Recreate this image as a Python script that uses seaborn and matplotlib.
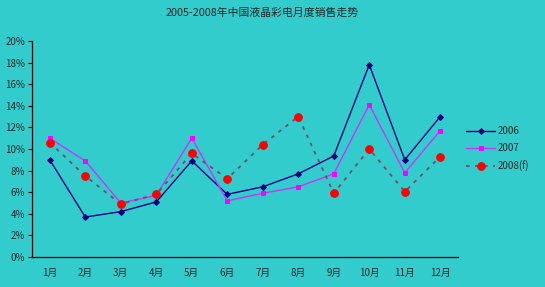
import numpy as np
import pandas as pd
import matplotlib
matplotlib.use("Agg")
import matplotlib.pyplot as plt
import seaborn as sns

months = ["1月", "2月", "3月", "4月", "5月", "6月", "7月", "8月", "9月", "10月", "11月", "12月"]
s2006 = [9.0, 3.7, 4.2, 5.1, 8.9, 5.8, 6.5, 7.7, 9.35, 17.8, 9.0, 13.0]
s2007 = [11.0, 8.9, 5.0, 5.7, 11.0, 5.2, 5.9, 6.5, 7.7, 14.1, 7.8, 11.7]
s2008 = [10.6, 7.5, 4.9, 5.8, 9.6, 7.25, 10.4, 13.0, 5.9, 10.0, 6.05, 9.3]
series_names = ["2006", "2007", "2008(f)"]
title = "2005-2008年中国液晶彩电月度销售走势"
yticks = list(range(0, 21, 2))

sns.set_theme(style="white")
plt.rcParams['font.family'] = ['Noto Sans CJK SC', 'DejaVu Sans']
bg = "#33CCCC"

fig = plt.figure(figsize=(5.45, 2.87), dpi=100, facecolor=bg)
ax = fig.add_axes([32/545, 1-257/287, (458-32)/545, (257-41)/287])
ax.set_facecolor(bg)

x = np.arange(len(months))
df = pd.DataFrame({"x": np.tile(x, 3),
                   "v": s2006 + s2007 + s2008,
                   "s": np.repeat(series_names, len(months))})

styles = {
    "2006": dict(color="#000080", marker="D", markersize=3, linestyle="-", linewidth=1.0,
                 markerfacecolor="#000080", markeredgecolor="#000080"),
    "2007": dict(color="#CC33FF", marker="s", markersize=3.5, linestyle="-", linewidth=1.0,
                 markerfacecolor="#FF00FF", markeredgecolor="#FF00FF"),
    "2008(f)": dict(color="#7a4a6a", marker="o", markersize=5.5, linestyle=(0, (2, 3)), linewidth=1.3,
                    markerfacecolor="#FF0000", markeredgecolor="#FF0000"),
}
for name in series_names:
    sub = df[df["s"] == name]
    st = styles[name]
    sns.lineplot(data=sub, x="x", y="v", ax=ax, label=name, **st)

ax.set_xlim(-0.5, 11.5)
ax.set_ylim(0, 20)
ax.set_yticks(yticks)
ax.set_yticklabels([f"{v}%" for v in yticks], fontsize=7)
ax.set_xticks(x)
ax.set_xticklabels(months, fontsize=7)
ax.set_xticks(np.arange(-0.5, 12, 1), minor=True)
ax.tick_params(axis="x", which="major", length=0, pad=8)
ax.tick_params(axis="x", which="minor", length=3, direction="in", color="black", width=0.8)
ax.tick_params(axis="y", which="major", length=3, direction="out", color="black", width=0.8, pad=2, left=True)
ax.set_xlabel("")
ax.set_ylabel("")
for side in ["top", "right"]:
    ax.spines[side].set_visible(False)
for side in ["left", "bottom"]:
    ax.spines[side].set_color("black")
    ax.spines[side].set_linewidth(0.9)

fig.text(262/545, 1-13/287, title, ha="center", va="center", fontsize=7.8)

leg = ax.legend(loc="upper left", bbox_to_anchor=(466/545, 1-126/287), bbox_transform=fig.transFigure,
                frameon=False, fontsize=7, handlelength=3.0, handletextpad=0.3, labelspacing=0.75,
                borderaxespad=0, borderpad=0)

fig.savefig("out.png", dpi=100, facecolor=bg)
